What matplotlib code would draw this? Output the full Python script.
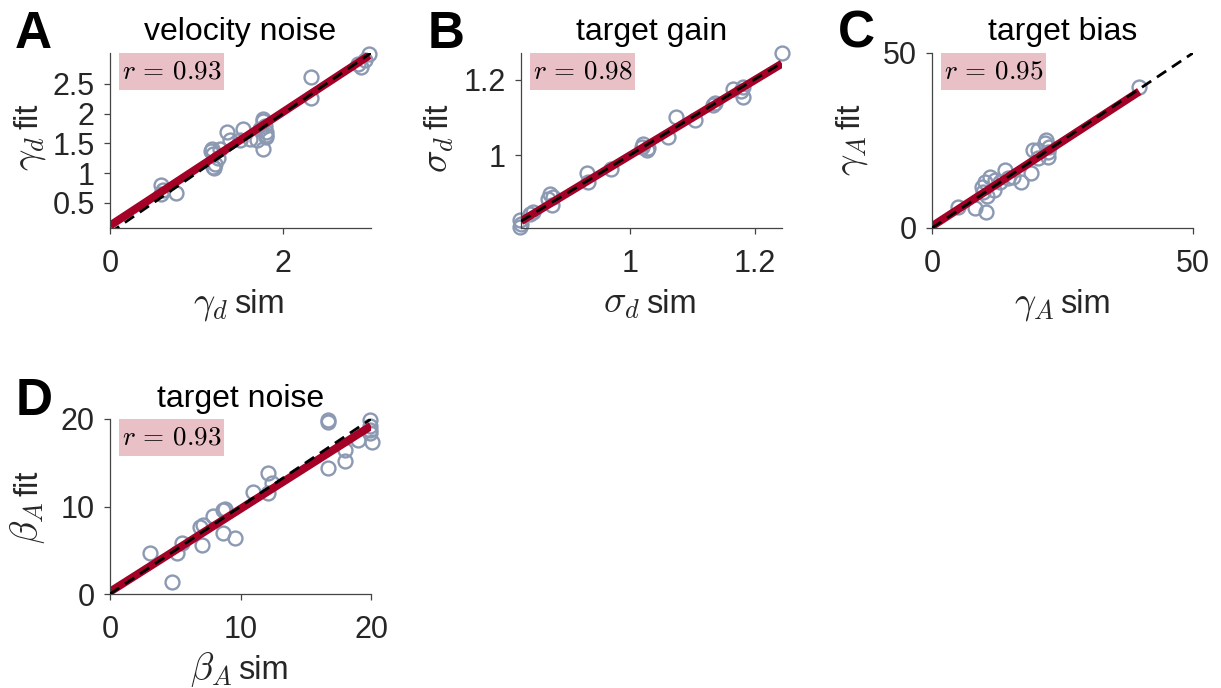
import numpy as np
import matplotlib.pyplot as plt
from matplotlib.patches import Rectangle

plt.rcParams['font.family'] = ['Liberation Sans', 'DejaVu Sans']
plt.rcParams['mathtext.fontset'] = 'cm'

# panel A: velocity noise
a_sim = [0.59, 0.59, 0.76, 0.61, 1.18, 1.19, 1.19, 1.21, 1.17, 1.20, 1.27, 1.25, 1.35, 1.39,
         1.50, 1.54, 1.62, 1.70, 1.73, 1.77, 1.79, 1.81, 1.77, 1.77, 1.81, 1.81,
         2.33, 2.33, 2.87, 2.91, 2.95, 3.00]
a_fit = [0.80, 0.65, 0.66, 0.72, 1.41, 1.33, 1.11, 1.16, 1.38, 1.08, 1.41, 1.25, 1.69, 1.55,
         1.55, 1.74, 1.58, 1.55, 1.74, 1.91, 1.80, 1.61, 1.41, 1.88, 1.69, 1.65,
         2.62, 2.27, 2.83, 2.79, 2.91, 3.01]
a_line_x = [0.0, 3.0]
a_line_y = [0.12, 2.98]

# panel B: target gain
b_sim = [0.824, 0.824, 0.826, 0.84, 0.845, 0.872, 0.869, 0.875, 0.878, 0.931, 0.933, 0.97,
         1.019, 1.021, 1.027, 1.030, 1.061, 1.075, 1.104, 1.133, 1.136, 1.165, 1.181, 1.181,
         1.178, 1.244]
b_fit = [0.828, 0.81, 0.818, 0.846, 0.85, 0.899, 0.885, 0.868, 0.89, 0.952, 0.93, 0.965,
         1.022, 1.031, 1.013, 1.02, 1.048, 1.101, 1.093, 1.132, 1.137, 1.174, 1.181, 1.154,
         1.17, 1.269]
b_line_x = [0.826, 1.244]
b_line_y = [0.826, 1.242]

# panel C: target bias
c_sim = [5.0, 8.2, 10.4, 9.5, 9.8, 10.1, 11.1, 12.0, 13.0, 13.9, 14.6, 15.5, 17.1, 19.0,
         19.3, 20.3, 20.3, 21.6, 21.9, 22.2, 22.5, 22.2, 10.6, 11.8, 39.7]
c_fit = [6.0, 5.6, 4.6, 11.7, 10.3, 13.2, 14.6, 13.7, 13.2, 16.5, 14.2, 14.6, 13.2, 15.6,
         22.3, 22.3, 19.9, 24.2, 25.1, 21.8, 23.2, 20.3, 9.0, 10.8, 40.4]
c_line_x = [0.0, 39.7]
c_line_y = [0.5, 39.0]

# panel D: target noise
d_sim = [3.07, 4.73, 5.11, 5.49, 6.90, 7.03, 7.15, 7.92, 8.69, 8.85, 8.69, 9.58, 10.98,
         12.13, 12.39, 12.13, 16.73, 16.73, 16.73, 18.0, 18.0, 19.03, 19.92, 19.92, 19.92,
         20.05, 19.9]
d_fit = [4.66, 1.41, 4.66, 5.80, 7.70, 5.60, 7.90, 8.86, 9.60, 9.75, 6.95, 6.38, 11.70,
         13.80, 12.70, 11.50, 19.90, 19.70, 14.40, 15.20, 16.50, 17.60, 19.90, 19.20, 18.40,
         17.40, 18.8]
d_line_x = [0.0, 20.0]
d_line_y = [0.26, 19.2]

r_values = ['0.93', '0.98', '0.95', '0.93']

red = '#A50026'
dot = '#8C99B3'
box = '#E8C0C6'
ink = '#262626'

fig = plt.figure(figsize=(12.21, 6.88), dpi=100)

W, H = 1221, 688
def place(left, top):
    return [left / W, 1 - (top + 175) / H, 261 / W, 175 / H]


def split_label(ax, math, word, axis, split):
    # math part drawn bigger, like the LaTeX interpreter output
    kw = dict(xycoords='axes fraction', textcoords='offset pixels',
              va='baseline', color=ink, annotation_clip=False)
    if axis == 'x':
        ax.annotate(math, xy=(split, 0), xytext=(-2, -85), ha='right', fontsize=27, **kw)
        ax.annotate(word, xy=(split, 0), xytext=(4, -85), ha='left', fontsize=23.5, **kw)
    else:
        ax.annotate(math, xy=(0, split), xytext=(-73, -2), ha='right', fontsize=27,
                    rotation=90, rotation_mode='anchor', **kw)
        ax.annotate(word, xy=(0, split), xytext=(-73, 4), ha='left', fontsize=23.5,
                    rotation=90, rotation_mode='anchor', **kw)


panels = [
    dict(pos=place(110, 53), sim=a_sim, fit=a_fit, lx=a_line_x, ly=a_line_y,
         xlim=(0, 3.02), ylim=(0.08, 3.02), xt=[0, 2], yt=[0.5, 1, 1.5, 2, 2.5],
         title='velocity noise', sym=r'$\gamma_d$', xs=0.46, r=r_values[0]),
    dict(pos=place(521, 53), sim=b_sim, fit=b_fit, lx=b_line_x, ly=b_line_y,
         xlim=(0.826, 1.244), ylim=(0.808, 1.27), xt=[1, 1.2], yt=[1, 1.2],
         title='target gain', sym=r'$\sigma_d$', xs=0.465, r=r_values[1]),
    dict(pos=place(932, 53), sim=c_sim, fit=c_fit, lx=c_line_x, ly=c_line_y,
         xlim=(0, 50), ylim=(0, 50), xt=[0, 50], yt=[0, 50],
         title='target bias', sym=r'$\gamma_A$', xs=0.475, r=r_values[2]),
    dict(pos=place(110, 419), sim=d_sim, fit=d_fit, lx=d_line_x, ly=d_line_y,
         xlim=(0, 20), ylim=(0, 20), xt=[0, 10, 20], yt=[0, 10, 20],
         title='target noise', sym=r'$\beta_A$', xs=0.475, r=r_values[3]),
]

for p in panels:
    ax = fig.add_axes(p['pos'])
    ax.plot(p['sim'], p['fit'], 'o', ms=10, mfc='none', mec=dot, mew=1.7,
            clip_on=False, zorder=1)
    ax.plot(p['lx'], p['ly'], color=red, lw=5.8, solid_capstyle='butt', zorder=2)
    ax.plot(p['xlim'], p['xlim'], color='black', lw=2.0, dashes=(4, 2.5), zorder=3)
    ax.set_xlim(p['xlim'])
    ax.set_ylim(p['ylim'])
    ax.set_xticks(p['xt'])
    ax.set_yticks(p['yt'])
    ax.set_xticklabels([f'{v:g}' for v in p['xt']])
    ax.set_yticklabels([f'{v:g}' for v in p['yt']])
    for s in ['top', 'right']:
        ax.spines[s].set_visible(False)
    for s in ['left', 'bottom']:
        ax.spines[s].set_color('#444444')
        ax.spines[s].set_linewidth(0.9)
    ax.tick_params(direction='out', length=4, width=0.9, color='#444444',
                   labelcolor=ink, labelsize=22)
    ax.tick_params(axis='x', pad=11)
    ax.tick_params(axis='y', pad=7)
    ax.set_title(p['title'], fontsize=23, pad=9, color='black')
    split_label(ax, p['sym'], 'sim', 'x', p['xs'])
    split_label(ax, p['sym'], 'fit', 'y', 0.54)
    ax.add_patch(Rectangle((0.035, 0.79), 0.402, 0.211, transform=ax.transAxes,
                           fc=box, ec='none', clip_on=False, zorder=4))
    ax.text(0.047, 0.852, r'$r\,=\,%s$' % p['r'], transform=ax.transAxes,
            fontsize=19.5, ha='left', va='baseline', zorder=5)

for letter, x, y in [('A', 15, 48), ('B', 428, 48), ('C', 838, 48), ('D', 16, 415)]:
    fig.text(x / W, 1 - y / H, letter, fontsize=37, fontweight='bold',
             va='baseline', ha='left')

fig.savefig('out.png', dpi=100)
